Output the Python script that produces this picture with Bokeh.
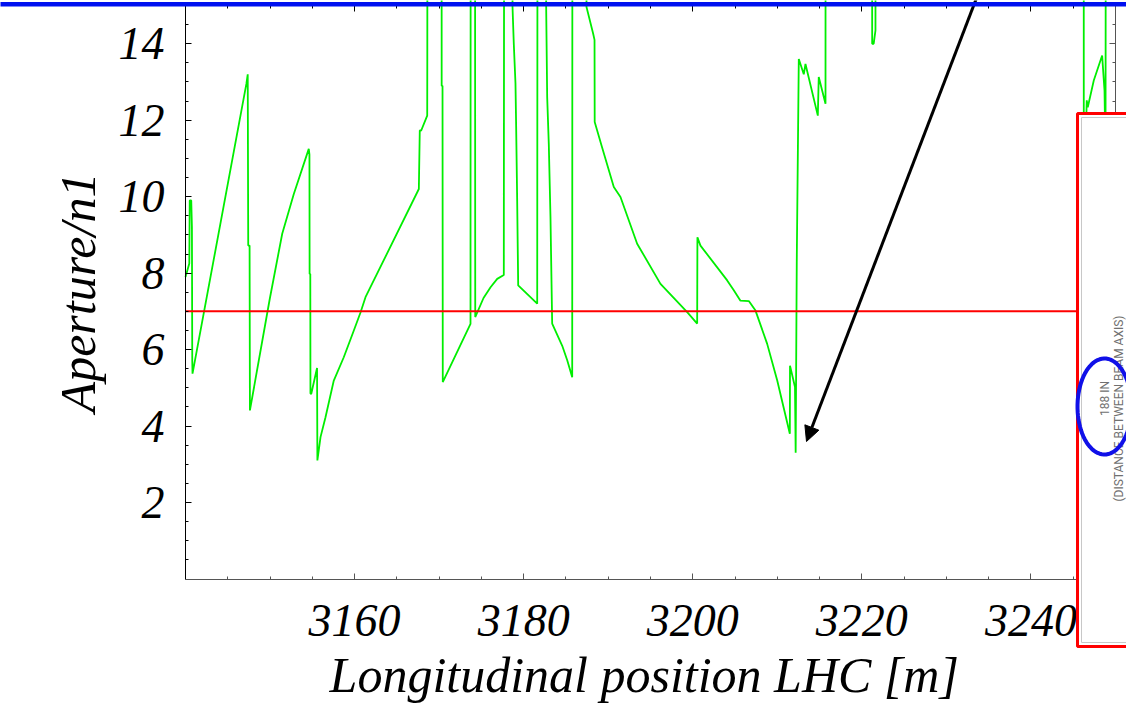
import numpy as np
from bokeh.plotting import figure
from bokeh.models import (Range1d, FixedTicker, LinearAxis, BoxAnnotation,
                          Label, Arrow, NormalHead, PolyAnnotation)
from bokeh.embed import file_html
from bokeh.resources import INLINE

# ---------------- data ----------------
position_m = [
    3140.00, 3140.45, 3140.50, 3140.68, 3140.76, 3140.80, 3140.83,
    3147.20, 3147.36, 3147.42, 3147.58, 3147.62,
    3149.97, 3151.44, 3152.81, 3154.58,
    3154.66, 3154.68, 3154.76, 3154.78, 3154.87, 3155.56, 3155.60,
    3155.97, 3156.56, 3157.54, 3158.72, 3159.91, 3160.70, 3161.29,
    3167.60, 3167.71, 3167.88, 3168.59, 3168.60, 3168.66,
    3170.28, 3170.30, 3170.40, 3170.43, 3173.71, 3173.75,
    3174.22, 3174.27, 3175.25, 3176.08, 3176.87, 3177.65, 3177.73,
    3178.60, 3178.68, 3178.83, 3179.03, 3179.11, 3179.23, 3179.35,
    3181.60, 3181.67,
    3182.60, 3182.66, 3182.78, 3182.97, 3183.17, 3183.37,
    3184.56, 3185.15, 3185.74, 3185.78,
    3187.35, 3187.43, 3188.22, 3188.38, 3188.40, 3189.26, 3190.66,
    3191.45, 3193.42, 3196.18, 3199.34, 3200.52,
    3200.55, 3200.91, 3204.07, 3204.85, 3205.64, 3206.63, 3207.42,
    3208.80, 3209.99, 3211.48, 3211.50, 3212.09, 3212.17,
    3212.30, 3212.42, 3212.54, 3213.13, 3213.33, 3214.79, 3214.90,
    3215.70, 3215.72,
    3221.20, 3221.22, 3221.40, 3221.61, 3221.63,
    3246.23, 3246.25, 3246.45, 3246.60, 3246.72, 3247.43, 3248.22,
    3248.42, 3248.70, 3248.82, 3248.90, 3250.00,
]
aperture_n1 = [
    7.90, 8.25, 9.90, 9.90, 9.20, 5.70, 5.37,
    12.95, 13.20, 8.72, 8.72, 4.41,
    7.33, 9.03, 10.07, 11.25,
    11.10, 7.98, 7.98, 4.85, 4.84, 5.52, 3.10,
    3.71, 4.23, 5.19, 5.80, 6.50, 6.97, 7.37,
    10.20, 11.73, 11.73, 12.12, 13.56, 30.0,
    30.0, 12.90, 12.90, 5.15, 6.67, 30.0,
    30.0, 6.85, 7.35, 7.63, 7.85, 7.95, 30.0,
    30.0, 14.96, 14.00, 12.96, 11.82, 9.90, 7.68,
    7.20, 30.0,
    30.0, 14.96, 12.60, 11.38, 9.46, 6.68,
    6.10, 5.72, 5.28, 30.0,
    30.0, 14.96, 14.26, 14.10, 11.95, 11.30, 10.25,
    9.99, 8.77, 7.72, 6.98, 6.68,
    8.94, 8.72, 7.81, 7.55, 7.28, 7.27, 7.02,
    6.15, 5.19, 3.80, 5.58, 5.02, 3.30,
    8.30, 10.95, 13.60, 13.20, 13.47, 12.12, 13.13,
    12.43, 30.0,
    30.0, 14.00, 14.00, 14.35, 30.0,
    30.0, 11.00, 11.20, 12.52, 12.34, 13.04, 13.56,
    13.69, 12.78, 11.00, 30.0, 30.0,
]
tolerance_n1 = 7.0

x_major_ticks = [3160, 3180, 3200, 3220, 3240]
x_minor_ticks = [v for v in range(3145, 3251, 5) if v not in x_major_ticks]
y_major_ticks = [2, 4, 6, 8, 10, 12, 14]
y_minor_ticks = [v / 2 for v in range(1, 30) if (v / 2) not in y_major_ticks]

x_title = "Longitudinal position LHC  [m]"
y_title = "Aperture/n1"
note_value = "188 IN"
note_text = "(DISTANCE BETWEEN BEAM AXIS)"

# ---------------- layout ----------------
X_START, X_END = 3140, 3250          # plotted box
Y_START, Y_END = 0.0, 15.0
W, H = 1126, 704                     # canvas

# canvas-pixel -> data helpers (plot box: x 185..1115, y 5..578.5)
def dx(px):
    return X_START + (px - 185) * (X_END - X_START) / 930.0

def dy(py):
    return Y_START + (578.5 - py) * (Y_END - Y_START) / 573.5

SERIF = "Liberation Serif"

# the frame fills the whole canvas; the axes are pinned to the plot box
p = figure(width=W, height=H,
           x_range=Range1d(dx(0), dx(W)), y_range=Range1d(dy(H), dy(0)),
           output_backend="svg", toolbar_location=None, min_border=0)
p.outline_line_color = None
p.xgrid.grid_line_color = None
p.ygrid.grid_line_color = None
p.background_fill_color = "white"
p.border_fill_color = "white"

bottom_axis = p.below[0]
left_axis = p.left[0]
top_axis = LinearAxis()
right_axis = LinearAxis()
p.add_layout(top_axis, "above")
p.add_layout(right_axis, "right")

bottom_axis.fixed_location = Y_START
top_axis.fixed_location = Y_END
left_axis.fixed_location = X_START
right_axis.fixed_location = X_END

xt = FixedTicker(ticks=x_major_ticks, minor_ticks=x_minor_ticks)
yt = FixedTicker(ticks=y_major_ticks, minor_ticks=y_minor_ticks)

for ax, tk, bnds in ((bottom_axis, xt, (X_START, X_END)), (top_axis, xt, (X_START, X_END)),
                     (left_axis, yt, (Y_START, Y_END)), (right_axis, yt, (Y_START, Y_END))):
    ax.ticker = tk
    ax.bounds = bnds
    ax.major_tick_in = 6
    ax.major_tick_out = 0
    ax.minor_tick_in = 3
    ax.minor_tick_out = 0
    ax.axis_line_color = "black"
    ax.major_tick_line_color = "black"
    ax.minor_tick_line_color = "black"
    ax.major_label_text_font = SERIF
    ax.major_label_text_font_style = "italic"
    ax.major_label_text_font_size = "46px"
    ax.major_label_text_color = "black"
    ax.axis_label_text_font = SERIF
    ax.axis_label_text_font_style = "italic"
    ax.axis_label_text_font_size = "50px"
    ax.axis_label_text_color = "black"

for ax, ticks in ((top_axis, x_major_ticks), (right_axis, y_major_ticks)):
    ax.major_label_overrides = {t: "" for t in ticks}
    ax.major_label_text_font_size = "1px"
    ax.major_label_standoff = 0

for ax in (right_axis, bottom_axis):
    ax.axis_line_color = "#555555"
    ax.major_tick_line_color = "#555555"
    ax.minor_tick_line_color = "#555555"

bottom_axis.axis_label = x_title
bottom_axis.major_label_standoff = 26
bottom_axis.axis_label_standoff = 7
left_axis.axis_label = y_title
left_axis.major_label_standoff = 21
left_axis.axis_label_standoff = 10

# aperture curve and tolerance line
p.line(position_m, aperture_n1, line_color="#00ee00", line_width=1.8)
p.line([X_START, X_END], [tolerance_n1, tolerance_n1], line_color="#ff0000", line_width=2)

# pointer arrow
p.add_layout(Arrow(end=NormalHead(size=15, fill_color="black", line_color="black"),
                   x_start=dx(977), y_start=dy(-5), x_end=dx(806), y_end=dy(441),
                   line_color="black", line_width=3))

# slide band on top
p.add_layout(BoxAnnotation(left=dx(-50), right=dx(1200), top=dy(1.5), bottom=dy(6),
                           fill_color="#0010f0", fill_alpha=1, line_color=None,
                           level="overlay"))

# inset drawing box
p.add_layout(BoxAnnotation(left=dx(1077), right=dx(1180), top=dy(113), bottom=dy(646),
                           fill_color="white", fill_alpha=1, line_color="#ff0000",
                           line_width=3, line_alpha=1, level="overlay"))
p.add_layout(BoxAnnotation(left=dx(1081), right=dx(1180), top=dy(117), bottom=dy(642),
                           fill_alpha=0, line_color="#c8c8c8", line_width=1,
                           line_alpha=1, level="overlay"))

for txt, px, py in ((note_value, 1104, 398), (note_text, 1118, 408)):
    p.add_layout(Label(x=dx(px), y=dy(py), text=txt, angle=np.pi / 2,
                       text_align="center", text_baseline="middle",
                       text_font="Roboto", text_font_size="12px",
                       text_color="#707070", level="overlay"))

t = np.linspace(0, 2 * np.pi, 80)
p.add_layout(PolyAnnotation(xs=list(dx(1104 + 27 * np.cos(t))),
                            ys=list(dy(406 + 48 * np.sin(t))),
                            fill_alpha=0, line_color="#1010e8", line_width=4,
                            line_alpha=1, level="overlay"))

open("out.html", "w").write(file_html(p, INLINE))
